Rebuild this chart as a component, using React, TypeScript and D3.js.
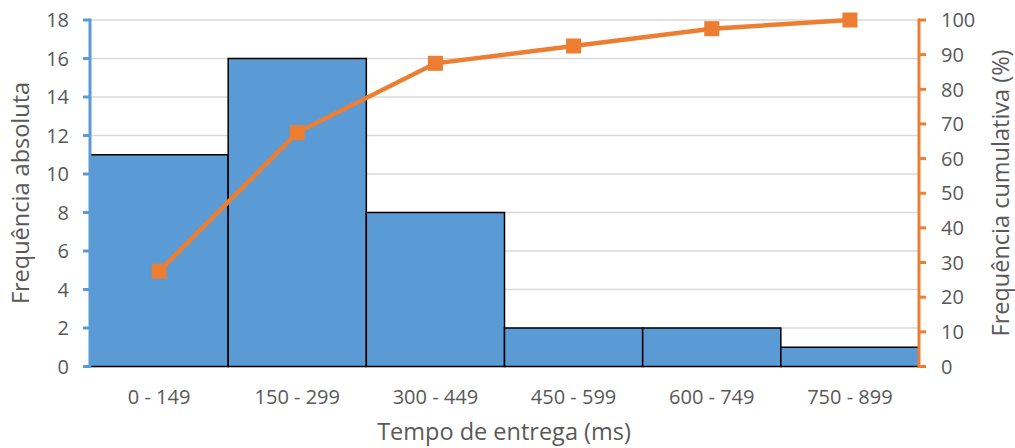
import React from "react";
import * as d3 from "d3";

const categories = ["0 - 149", "150 - 299", "300 - 449", "450 - 599", "600 - 749", "750 - 899"];
const frequencies = [11, 16, 8, 2, 2, 1];
const cumulativePct = [27.5, 67.5, 87.5, 92.5, 97.5, 100];
const leftTicks = [0, 2, 4, 6, 8, 10, 12, 14, 16, 18];
const rightTicks = [0, 10, 20, 30, 40, 50, 60, 70, 80, 90, 100];

const W = 1015;
const H = 448;
const plot = { left: 90, right: 919, top: 20, bottom: 366.5 };

const BLUE = "#5B9BD5";
const ORANGE = "#ED7D31";
const TEXT = "#595959";
const FONT = "'Open Sans', 'Liberation Sans', sans-serif";
const MARKER = 15;

export default function App() {
  const x = d3.scaleBand<string>().domain(categories).range([plot.left, plot.right]).padding(0);
  const yL = d3.scaleLinear().domain([0, 18]).range([plot.bottom, plot.top]);
  const yR = d3.scaleLinear().domain([0, 100]).range([plot.bottom, plot.top]);

  const line = d3
    .line<number>()
    .x((_, i) => x(categories[i])! + x.bandwidth() / 2)
    .y((d) => yR(d));

  return (
    <svg width={W} height={H} style={{ position: "absolute", left: 0, top: 0, background: "#fff" }} fontFamily={FONT}>
      {/* horizontal gridlines */}
      {leftTicks.map((t) => (
        <line key={"g" + t} x1={plot.left} x2={plot.right} y1={yL(t)} y2={yL(t)} stroke="#D9D9D9" strokeWidth={1.5} />
      ))}

      {/* histogram bars */}
      {frequencies.map((v, i) => (
        <rect
          key={"b" + i}
          x={x(categories[i])!}
          y={yL(v)}
          width={x.bandwidth()}
          height={yL(0) - yL(v)}
          fill={BLUE}
          stroke="#000"
          strokeWidth={1.5}
        />
      ))}

      {/* left axis */}
      <line x1={plot.left} x2={plot.left} y1={plot.top - 1.5} y2={plot.bottom + 1.5} stroke={BLUE} strokeWidth={3} />
      {leftTicks.map((t) => (
        <g key={"lt" + t}>
          <line x1={plot.left - 7} x2={plot.left} y1={yL(t)} y2={yL(t)} stroke={BLUE} strokeWidth={3} />
          <text x={plot.left - 21} y={yL(t)} dy="0.36em" textAnchor="end" fontSize={20} fill={TEXT}>
            {t}
          </text>
        </g>
      ))}

      {/* right axis */}
      <line x1={plot.right} x2={plot.right} y1={plot.top - 1.5} y2={plot.bottom + 1.5} stroke={ORANGE} strokeWidth={3} />
      {rightTicks.map((t) => (
        <g key={"rt" + t}>
          <line x1={plot.right} x2={plot.right + 7} y1={yR(t)} y2={yR(t)} stroke={ORANGE} strokeWidth={3} />
          <text x={plot.right + 22} y={yR(t)} dy="0.36em" textAnchor="start" fontSize={20} fill={TEXT}>
            {t}
          </text>
        </g>
      ))}

      {/* category labels */}
      {categories.map((c) => (
        <text key={"c" + c} x={x(c)! + x.bandwidth() / 2} y={397} dy="0.36em" textAnchor="middle" fontSize={20} fill={TEXT}>
          {c}
        </text>
      ))}

      {/* cumulative line */}
      <path d={line(cumulativePct)!} fill="none" stroke={ORANGE} strokeWidth={4.5} />
      {cumulativePct.map((v, i) => (
        <rect
          key={"m" + i}
          x={x(categories[i])! + x.bandwidth() / 2 - MARKER / 2}
          y={yR(v) - MARKER / 2}
          width={MARKER}
          height={MARKER}
          fill={ORANGE}
        />
      ))}

      {/* axis titles */}
      <text x={504} y={432} dy="0.36em" textAnchor="middle" fontSize={23.5} fill={TEXT}>
        Tempo de entrega (ms)
      </text>
      <text
        transform={`translate(21, 193) rotate(-90)`}
        dy="0.36em"
        textAnchor="middle"
        fontSize={23.5}
        fill={TEXT}
      >
        Frequência absoluta
      </text>
      <text
        transform={`translate(1001, 193) rotate(-90)`}
        dy="0.36em"
        textAnchor="middle"
        fontSize={23.5}
        fill={TEXT}
      >
        Frequência cumulativa (%)
      </text>
    </svg>
  );
}
